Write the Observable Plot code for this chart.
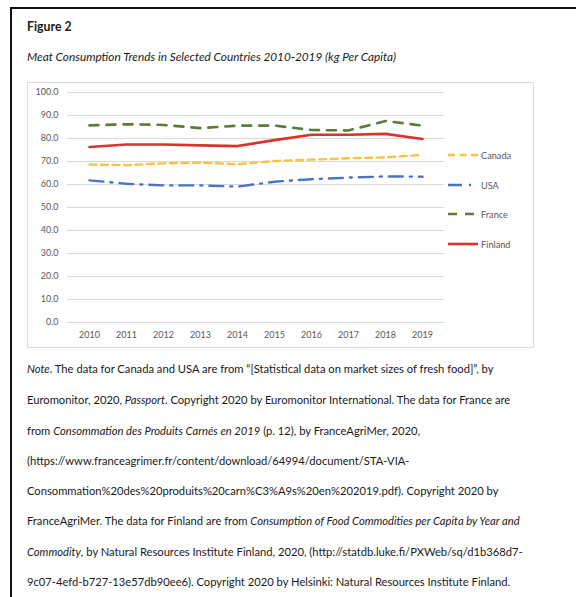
<!DOCTYPE html>
<html>
<head>
<meta charset="utf-8">
<script src="https://cdn.jsdelivr.net/npm/d3@7"></script>
<script src="https://cdn.jsdelivr.net/npm/@observablehq/plot@0.6"></script>
<style>
  html, body { margin: 0; padding: 0; background: #fff; }
  body { width: 576px; height: 597px; position: relative; overflow: hidden; font-family: Lato, "Open Sans", sans-serif; color: #1a1a1a; }
  #frame { position: absolute; left: 10px; top: 7px; width: 600px; height: 620px; border-left: 2px solid #111; border-top: 2px solid #111; }
  .txt { position: absolute; left: 27px; white-space: nowrap; }
  #fig { top: 19px; font-weight: bold; font-size: 12.3px; }
  #title { top: 49px; font-style: italic; font-size: 11.8px; }
  #box { position: absolute; left: 27px; top: 82px; width: 507px; height: 266px; border: 1px solid #dcdcdc; box-sizing: border-box; }
  #chart { position: absolute; left: 0; top: 0; }
  #legend { position: absolute; left: 420px; top: 0; }
  .lg { position: absolute; left: 0; font-size: 9.2px; color: #595959; display: flex; align-items: center; white-space: nowrap; }
  .lg svg { margin-right: 3px; }
  .note { position: absolute; left: 27px; white-space: nowrap; font-size: 11.2px; }
</style>
</head>
<body>
<div id="frame"></div>
<div class="txt" id="fig">Figure 2</div>
<div class="txt" id="title">Meat Consumption Trends in Selected Countries 2010-2019 (kg Per Capita)</div>
<div id="box"><div id="chart"></div><div id="legend"></div></div>
<div id="notes"></div>
<script>
const years = [2010, 2011, 2012, 2013, 2014, 2015, 2016, 2017, 2018, 2019];
const canada = [68.7, 68.4, 69.2, 69.5, 68.8, 70.2, 70.8, 71.4, 71.8, 72.9];
const usa = [61.8, 60.3, 59.6, 59.6, 59.1, 61.2, 62.3, 63.0, 63.5, 63.4];
const france = [85.7, 86.2, 85.9, 84.5, 85.6, 85.6, 83.7, 83.5, 87.6, 85.6];
const finland = [76.3, 77.4, 77.4, 77.0, 76.7, 79.3, 81.6, 81.6, 82.0, 79.8];
const yTicks = [0, 10, 20, 30, 40, 50, 60, 70, 80, 90, 100];

const series = [
  {name: "Canada", values: canada, color: "#F7C342", dash: "7,4.5", width: 2.4},
  {name: "USA", values: usa, color: "#4A74C0", dash: "14,7,2,7", width: 2.4},
  {name: "France", values: france, color: "#5A7D3A", dash: "9,8", width: 2.6},
  {name: "Finland", values: finland, color: "#D9342B", dash: null, width: 2.6}
];

const rows = series.flatMap(s => years.map((y, i) => ({series: s.name, year: String(y), value: s.values[i]})));

const chart = Plot.plot({
  width: 505,
  height: 264,
  marginLeft: 39,
  marginRight: 89,
  marginTop: 9,
  marginBottom: 25,
  style: {fontFamily: "Lato, 'Open Sans', sans-serif", fontSize: "9px", color: "#595959", background: "transparent"},
  x: {type: "point", domain: years.map(String), padding: 0.5, label: null},
  y: {domain: [0, 100], label: null},
  marks: [
    Plot.gridY(yTicks, {stroke: "#d9d9d9", strokeOpacity: 1, strokeWidth: 1}),
    Plot.axisY({ticks: yTicks, tickSize: 0, tickPadding: 9, tickFormat: d3.format(".1f"), label: null, fill: "#595959"}),
    Plot.axisX({tickSize: 0, tickPadding: 9, label: null, fill: "#595959"}),
    ...series.map(s => Plot.line(rows.filter(r => r.series === s.name), {
      x: "year", y: "value", stroke: s.color, strokeWidth: s.width,
      strokeDasharray: s.dash ?? undefined, curve: "linear"
    }))
  ]
});
document.getElementById("chart").appendChild(chart);

// legend
const legend = document.getElementById("legend");
const legendTops = [72, 102, 131, 161];
series.forEach((s, i) => {
  const d = document.createElement("div");
  d.className = "lg";
  d.style.top = (legendTops[i] - 6) + "px";
  const svg = d3.create("svg").attr("width", 30).attr("height", 12);
  svg.append("line").attr("x1", 0).attr("x2", 30).attr("y1", 6).attr("y2", 6)
    .attr("stroke", s.color).attr("stroke-width", s.width)
    .attr("stroke-dasharray", s.dash);
  d.appendChild(svg.node());
  const t = document.createElement("span");
  t.textContent = s.name;
  d.appendChild(t);
  legend.appendChild(d);
});

// notes
const noteLines = [
  "<i>Note</i>. The data for Canada and USA are from \u201c[Statistical data on market sizes of fresh food]\u201d, by",
  "Euromonitor, 2020, <i>Passport</i>. Copyright 2020 by Euromonitor International. The data for France are",
  "from <i>Consommation des Produits Carn\u00e9s en 2019</i> (p. 12), by FranceAgriMer, 2020,",
  "(https://www.franceagrimer.fr/content/download/64994/document/STA-VIA-",
  "Consommation%20des%20produits%20carn%C3%A9s%20en%202019.pdf). Copyright 2020 by",
  "FranceAgriMer. The data for Finland are from <i>Consumption of Food Commodities per Capita by Year and</i>",
  "<i>Commodity</i>, by Natural Resources Institute Finland, 2020, (http://statdb.luke.fi/PXWeb/sq/d1b368d7-",
  "9c07-4efd-b727-13e57db90ee6). Copyright 2020 by Helsinki: Natural Resources Institute Finland."
];
const noteCenters = [369, 400, 431, 461, 491, 521, 552, 582];
const notes = document.getElementById("notes");
noteLines.forEach((l, i) => {
  const d = document.createElement("div");
  d.className = "note";
  d.style.top = (noteCenters[i] - 7) + "px";
  d.innerHTML = l;
  notes.appendChild(d);
});
</script>
</body>
</html>
